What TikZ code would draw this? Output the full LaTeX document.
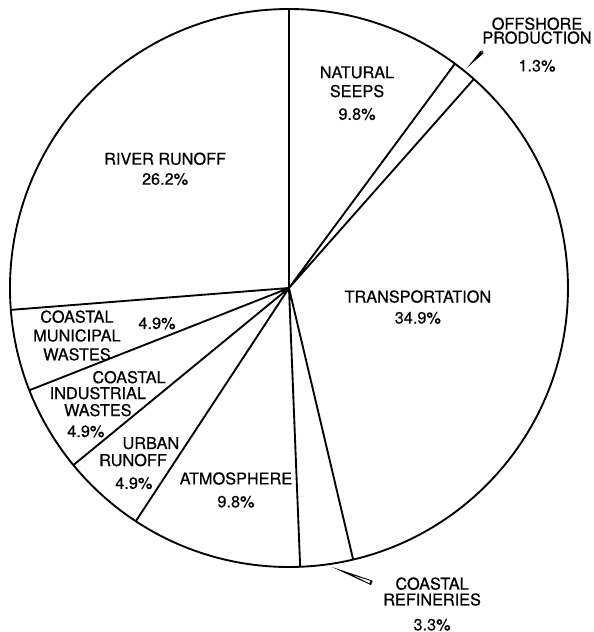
\documentclass[tikz,border=0pt]{standalone}
\usepackage{fontspec}
\setmainfont{TeX Gyre Heros}
\newfontfamily\lblfont{TeX Gyre Heros}[FakeBold=0.6]
\usepackage{tikz}

\tikzset{
  lbl/.style={font=\lblfont\fontsize{8.3}{9.6}\selectfont, align=center, inner sep=0pt, anchor=north},
  lblb/.style={font=\lblfont\fontsize{8.3}{9.6}\selectfont, inner sep=0pt, anchor=base},
  pie/.style={line width=0.95pt},
}

\begin{document}
\begin{tikzpicture}[scale=5]
    \useasboundingbox (-1.0358,-1.2330) rectangle (1.0932,1.0323);

    % 圆和分割线
    \draw[pie] (0,0) circle (1);
    \draw[pie] (0,0) -- (90:1)  (0,0) -- (53.5:1)  (0,0) -- (48.5:1)
        (0,0) -- (-76.7:1)  (0,0) -- (-87.7:1)  (0,0) -- (-123.3:1)
        (0,0) -- (-140.6:1)  (0,0) -- (-158.5:1)  (0,0) -- (-175.5:1);

    % 小扇形的指针
    \fill (0.638,0.789) -- (0.687,0.851) -- (0.697,0.841) -- cycle;
    \fill (0.692,0.846) circle (0.0055);
    \fill[white] (0.692,0.846) circle (0.002);
    \fill (0.154,-1.000) -- (0.300,-1.049) -- (0.294,-1.065) -- cycle;
    \fill[white] (0.233,-1.031) -- (0.2917,-1.0498) -- (0.2883,-1.0582) -- cycle;

    \node[lbl] (seeps) at (0.244,0.796) {NATURAL\\SEEPS\\[2pt]9.8\%};
    \node[lbl] (offshore) at (0.889,0.971) {OFFSHORE\\[-2.5pt]PRODUCTION\\[4.6pt]1.3\%};
    \node[lbl] (river) at (-0.444,0.487) {RIVER RUNOFF\\[0.6pt]26.2\%};
    \node[lbl] (transport) at (0.462,-0.007) {TRANSPORTATION\\[1.1pt]34.9\%};
    \node[lbl] (municipal) at (-0.760,-0.079) {COASTAL\\MUNICIPAL\\WASTES};
    \node[lbl] (municipalpct) at (-0.473,-0.104) {4.9\%};
    \node[lblb] (industrial1) at (-0.573,-0.341) {COASTAL};
    \node[lblb] (industrial2) at (-0.685,-0.398) {INDUSTRIAL};
    \node[lblb] (industrial3) at (-0.685,-0.459) {WASTES};
    \node[lblb] (industrialpct) at (-0.728,-0.534) {4.9\%};
    \node[lblb] (urban1) at (-0.495,-0.577) {URBAN};
    \node[lblb] (urban2) at (-0.559,-0.638) {RUNOFF};
    \node[lblb] (urbanpct) at (-0.556,-0.720) {4.9\%};
    \node[lbl] (atmos) at (-0.190,-0.659) {ATMOSPHERE\\[2.1pt]9.8\%};
    \node[lbl] (refineries) at (0.513,-1.036) {COASTAL\\[-1.5pt]REFINERIES\\[3.1pt]3.3\%};

\end{tikzpicture}
\end{document}
